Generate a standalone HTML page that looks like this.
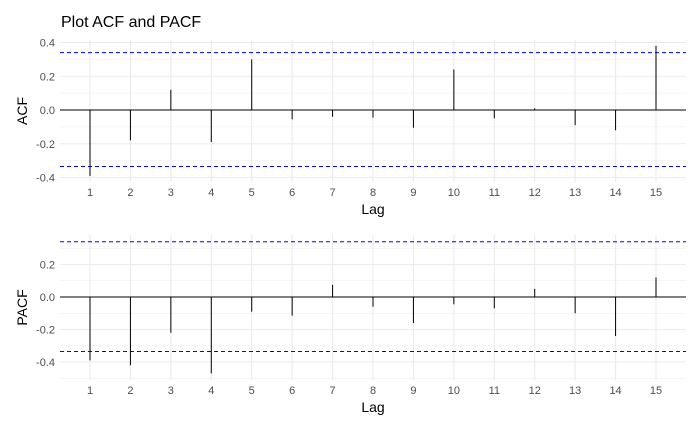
<!DOCTYPE html>
<html><head><meta charset="utf-8"><style>
body{margin:0;background:#fff;font-family:"Liberation Sans",Arial,sans-serif}
svg{display:block}
</style></head><body>
<svg id="chart" width="700" height="432">
<text x="61" y="27" font-size="16" fill="#000">Plot ACF and PACF</text>
</svg>
<script>
const lags=[1,2,3,4,5,6,7,8,9,10,11,12,13,14,15];
const acfValues=[-0.39,-0.18,0.12,-0.19,0.30,-0.055,-0.04,-0.045,-0.105,0.24,-0.05,0.01,-0.09,-0.12,0.38];
const pacfValues=[-0.39,-0.42,-0.22,-0.47,-0.09,-0.115,0.075,-0.06,-0.16,-0.045,-0.07,0.05,-0.10,-0.24,0.12];
const acfTicks=[0.4,0.2,0.0,-0.2,-0.4];
const pacfTicks=[0.2,0.0,-0.2,-0.4];
const confUpper=0.34, confLower=-0.335;
const NS="http://www.w3.org/2000/svg";
const svg=document.getElementById('chart');
function mk(tag,attrs,parent){const e=document.createElementNS(NS,tag);for(const k in attrs)e.setAttribute(k,attrs[k]);(parent||svg).appendChild(e);return e;}
const xL=60,xR=686;
const xScale=l=>90+(l-1)*(656-90)/14;
function panel(name,values,ticks,top,bottom,y0,pxPer,minorMin,minorMax,title){
  const yScale=v=>y0-v*pxPer;
  const g=mk('g',{});
  
  
  for(let v=minorMin;v<=minorMax+1e-9;v+=0.1){
    const y=yScale(v);
    mk('line',{x1:xL,x2:xR,y1:y,y2:y,stroke:'#ebebeb','stroke-width':Math.abs((Math.round(v*10))%2)===0?1.1:0.6},g);
  }
  lags.forEach(l=>{const x=xScale(l);mk('line',{x1:x,x2:x,y1:top,y2:bottom,stroke:'#ebebeb','stroke-width':1.1},g);});
  ticks.forEach(t=>{const tx=mk('text',{x:55,y:yScale(t)+4,'font-size':11,fill:'#4d4d4d','text-anchor':'end'},g);tx.textContent=t.toFixed(1);
    });
  lags.forEach(l=>{const tx=mk('text',{x:xScale(l),y:bottom+14,'font-size':11,fill:'#4d4d4d','text-anchor':'middle'},g);tx.textContent=l;
    });
  const z=mk('line',{x1:xL,x2:xR,y1:yScale(0),y2:yScale(0),stroke:'#000','stroke-width':1},g);
  
  [confUpper,confLower].forEach(c=>{const d=mk('line',{x1:xL,x2:xR,y1:yScale(c),y2:yScale(c),stroke:'#0000ff','stroke-width':1,'stroke-dasharray':'4,3'},g);
    });
  values.forEach((v,i)=>{const x=xScale(lags[i]);const b=mk('line',{x1:x,x2:x,y1:yScale(0),y2:yScale(v),stroke:'#000','stroke-width':1},g);
    });
  const yt=mk('text',{x:0,y:0,'font-size':14,fill:'#000','text-anchor':'middle',transform:`translate(27,${(top+bottom)/2}) rotate(-90)`},g);
  yt.textContent=title;
  const xt=mk('text',{x:373,y:bottom+32,'font-size':14,fill:'#000','text-anchor':'middle'},g);
  xt.textContent='Lag';
}
panel('acf',acfValues,acfTicks,40,182,110,168.75,-0.4,0.4,'ACF');
panel('pacf',pacfValues,pacfTicks,235,380,297,162.5,-0.5,0.3,'PACF');
</script>
</body></html>
